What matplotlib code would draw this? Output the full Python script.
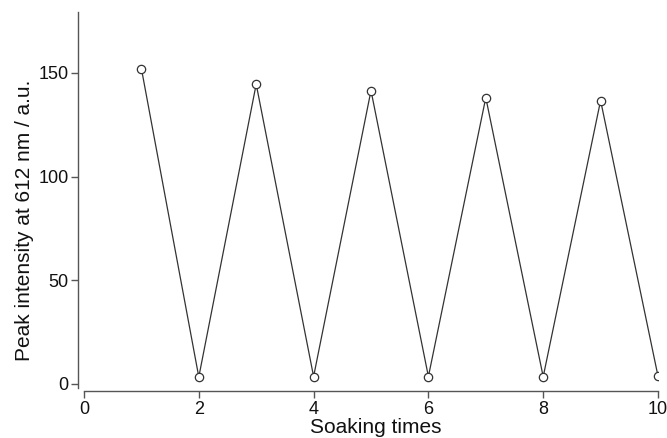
import matplotlib
matplotlib.use("Agg")
import matplotlib.pyplot as plt

soaking_times = [1, 2, 3, 4, 5, 6, 7, 8, 9, 10]
peak_intensity = [152.1, 3.4, 144.6, 3.6, 141.5, 3.6, 138.1, 3.5, 136.7, 3.8]
x_ticks = [0, 2, 4, 6, 8, 10]
y_ticks = [0, 50, 100, 150]

plt.rcParams['font.family'] = ['Liberation Sans', 'DejaVu Sans']

fig = plt.figure(figsize=(6.67, 4.38), dpi=100)
ax = fig.add_axes([84/667, 50/438, 574/667, 376/438])

ax.plot(soaking_times, peak_intensity, color='#333333', lw=0.9,
        marker='o', markersize=6, markerfacecolor='white',
        markeredgecolor='#333333', markeredgewidth=0.9)

ax.set_xlim(0, 10)
ax.set_ylim(-1.93, 179.4)
ax.set_xticks(x_ticks)
ax.set_yticks(y_ticks)

for s in ['top', 'right']:
    ax.spines[s].set_visible(False)
ax.spines['left'].set_position(('outward', 4))
ax.spines['bottom'].set_position(('outward', 2))
for s in ['left', 'bottom']:
    ax.spines[s].set_color('#555555')
    ax.spines[s].set_linewidth(1.0)

ax.tick_params(axis='both', direction='out', length=5, width=1.0,
               color='#555555', labelsize=13, labelcolor='#111111', pad=2)

ax.set_xlabel('Soaking times', fontsize=15, color='#111111', va='baseline')
ax.xaxis.set_label_coords(0.509, -0.119)
ax.set_ylabel('Peak intensity at 612 nm / a.u.', fontsize=15, color='#111111', va='center')
ax.yaxis.set_label_coords(-0.1045, 0.447)

fig.savefig('out.png', dpi=100)
